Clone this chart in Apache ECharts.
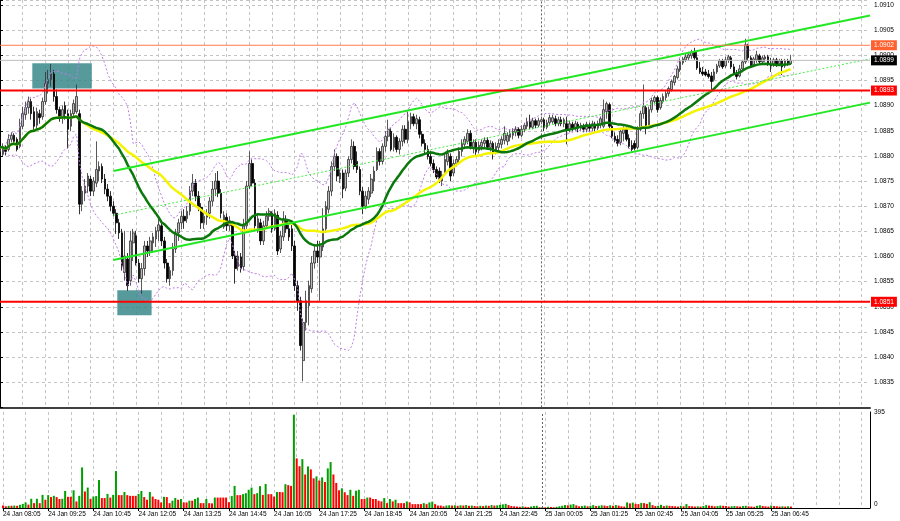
<!DOCTYPE html>
<html><head><meta charset="utf-8">
<script src="https://cdn.jsdelivr.net/npm/echarts/dist/echarts.min.js"></script>
<style>html,body{margin:0;padding:0;background:#fff;}#c{width:900px;height:521px;}</style>
</head><body><div id="c"></div>
<script>
const timeLabels = ["24 Jan 08:05","24 Jan 09:25","24 Jan 10:45","24 Jan 12:05","24 Jan 13:25","24 Jan 14:45","24 Jan 16:05","24 Jan 17:25","24 Jan 18:45","24 Jan 20:05","24 Jan 21:25","24 Jan 22:45","25 Jan 00:05","25 Jan 01:25","25 Jan 02:45","25 Jan 04:05","25 Jan 05:25","25 Jan 06:45"];
const slotCount = 308;
const opens = [
1.08809,1.08803,1.08817,1.08813,1.08833,1.08841,1.08833,1.08819,1.08859,1.08882,
1.08896,1.08908,1.08888,1.08861,1.08884,1.08878,1.08908,1.08944,1.08952,1.08963,
1.08918,1.08892,1.08876,1.08900,1.08884,1.08859,1.08884,1.08888,1.08884,1.08704,
1.08726,1.08740,1.08754,1.08730,1.08746,1.08770,1.08779,1.08754,1.08734,1.08720,
1.08700,1.08686,1.08667,1.08647,1.08568,1.08595,1.08552,1.08627,1.08641,1.08587,
1.08556,1.08576,1.08621,1.08611,1.08627,1.08635,1.08651,1.08661,1.08631,1.08587,
1.08556,1.08572,1.08615,1.08647,1.08667,1.08680,1.08675,1.08690,1.08730,1.08746,
1.08720,1.08698,1.08667,1.08678,1.08686,1.08710,1.08734,1.08750,1.08726,1.08659,
1.08678,1.08661,1.08667,1.08601,1.08580,1.08599,1.08580,1.08661,1.08740,1.08785,
1.08746,1.08655,1.08667,1.08631,1.08661,1.08680,1.08686,1.08655,1.08682,1.08615,
1.08639,1.08671,1.08655,1.08655,1.08621,1.08542,1.08512,1.08393,1.08469,1.08502,
1.08536,1.08587,1.08611,1.08599,1.08619,1.08655,1.08694,1.08730,1.08779,1.08799,
1.08754,1.08766,1.08736,1.08766,1.08793,1.08819,1.08789,1.08773,1.08730,1.08700,
1.08714,1.08726,1.08750,1.08773,1.08809,1.08789,1.08819,1.08839,1.08849,1.08817,
1.08837,1.08813,1.08829,1.08853,1.08833,1.08864,1.08878,1.08864,1.08872,1.08843,
1.08825,1.08813,1.08799,1.08785,1.08773,1.08770,1.08750,1.08766,1.08789,1.08799,
1.08766,1.08785,1.08793,1.08809,1.08823,1.08829,1.08845,1.08817,1.08827,1.08811,
1.08819,1.08825,1.08831,1.08817,1.08825,1.08809,1.08817,1.08823,1.08831,1.08829,
1.08837,1.08841,1.08847,1.08853,1.08841,1.08853,1.08859,1.08868,1.08857,1.08870,
1.08861,1.08868,1.08872,1.08857,1.08866,1.08868,1.08874,1.08864,1.08872,1.08864,
1.08864,1.08853,1.08863,1.08855,1.08863,1.08855,1.08859,1.08853,1.08861,1.08855,
1.08863,1.08855,1.08864,1.08859,1.08888,1.08902,1.08859,1.08839,1.08833,1.08827,
1.08845,1.08853,1.08835,1.08821,1.08825,1.08817,1.08853,1.08884,1.08896,1.08861,
1.08892,1.08908,1.08916,1.08896,1.08908,1.08916,1.08924,1.08932,1.08946,1.08956,
1.08971,1.08985,1.08991,1.08995,1.08999,1.09007,1.08995,1.08975,1.08967,1.08967,
1.08963,1.08959,1.08952,1.08967,1.08979,1.08989,1.08979,1.08991,1.08995,1.08977,
1.08965,1.08959,1.08973,1.08987,1.09019,1.08995,1.08981,1.08991,1.08999,1.08987,
1.08993,1.08997,1.08983,1.08981,1.08991,1.08983,1.08989,1.08979,1.08989,1.08983];
const closes = [
1.08817,1.08817,1.08809,1.08833,1.08841,1.08829,1.08813,1.08859,1.08884,1.08896,
1.08908,1.08884,1.08859,1.08888,1.08876,1.08908,1.08944,1.08952,1.08963,1.08918,
1.08892,1.08878,1.08892,1.08884,1.08853,1.08884,1.08904,1.08918,1.08704,1.08730,
1.08740,1.08760,1.08730,1.08750,1.08773,1.08779,1.08754,1.08734,1.08720,1.08700,
1.08686,1.08667,1.08647,1.08582,1.08601,1.08542,1.08631,1.08647,1.08587,1.08556,
1.08576,1.08621,1.08611,1.08631,1.08639,1.08651,1.08663,1.08631,1.08587,1.08556,
1.08572,1.08615,1.08647,1.08667,1.08680,1.08671,1.08690,1.08730,1.08746,1.08720,
1.08698,1.08667,1.08680,1.08686,1.08710,1.08734,1.08750,1.08726,1.08686,1.08682,
1.08661,1.08671,1.08601,1.08576,1.08601,1.08576,1.08661,1.08740,1.08785,1.08746,
1.08661,1.08675,1.08631,1.08661,1.08680,1.08690,1.08655,1.08686,1.08611,1.08641,
1.08675,1.08655,1.08639,1.08621,1.08542,1.08512,1.08423,1.08469,1.08512,1.08542,
1.08587,1.08611,1.08599,1.08621,1.08655,1.08700,1.08730,1.08779,1.08799,1.08760,
1.08766,1.08734,1.08766,1.08793,1.08819,1.08779,1.08773,1.08730,1.08700,1.08720,
1.08730,1.08754,1.08770,1.08809,1.08789,1.08819,1.08839,1.08853,1.08813,1.08837,
1.08813,1.08829,1.08853,1.08833,1.08868,1.08878,1.08864,1.08874,1.08843,1.08825,
1.08813,1.08799,1.08785,1.08773,1.08758,1.08754,1.08762,1.08793,1.08805,1.08760,
1.08785,1.08793,1.08809,1.08825,1.08833,1.08845,1.08819,1.08827,1.08809,1.08821,
1.08827,1.08831,1.08817,1.08825,1.08807,1.08819,1.08825,1.08833,1.08845,1.08841,
1.08845,1.08849,1.08853,1.08841,1.08853,1.08861,1.08868,1.08857,1.08870,1.08861,
1.08870,1.08872,1.08857,1.08866,1.08876,1.08876,1.08864,1.08872,1.08864,1.08872,
1.08853,1.08864,1.08855,1.08864,1.08855,1.08861,1.08853,1.08863,1.08855,1.08864,
1.08855,1.08864,1.08874,1.08892,1.08904,1.08859,1.08839,1.08831,1.08825,1.08849,
1.08853,1.08833,1.08819,1.08813,1.08815,1.08853,1.08884,1.08898,1.08859,1.08892,
1.08910,1.08916,1.08892,1.08910,1.08918,1.08924,1.08934,1.08948,1.08958,1.08973,
1.08987,1.08993,1.08997,1.09001,1.09007,1.08995,1.08975,1.08967,1.08963,1.08961,
1.08958,1.08948,1.08967,1.08979,1.08989,1.08977,1.08991,1.08997,1.08977,1.08965,
1.08958,1.08973,1.08987,1.09021,1.08995,1.08979,1.08993,1.09001,1.08987,1.08995,
1.08997,1.08983,1.08979,1.08991,1.08981,1.08989,1.08977,1.08989,1.08983,1.08990];
const lows = [
1.08799,1.08799,1.08801,1.08809,1.08827,1.08825,1.08809,1.08815,1.08853,1.08872,
1.08884,1.08872,1.08849,1.08855,1.08864,1.08872,1.08902,1.08924,1.08938,1.08908,
1.08884,1.08868,1.08864,1.08872,1.08815,1.08849,1.08878,1.08884,1.08684,1.08690,
1.08710,1.08726,1.08720,1.08720,1.08738,1.08750,1.08746,1.08724,1.08710,1.08690,
1.08680,1.08645,1.08635,1.08572,1.08552,1.08532,1.08542,1.08591,1.08582,1.08548,
1.08526,1.08562,1.08599,1.08601,1.08611,1.08619,1.08631,1.08621,1.08576,1.08548,
1.08542,1.08562,1.08607,1.08631,1.08655,1.08655,1.08667,1.08682,1.08720,1.08710,
1.08690,1.08655,1.08655,1.08663,1.08675,1.08700,1.08720,1.08718,1.08676,1.08655,
1.08651,1.08651,1.08595,1.08546,1.08572,1.08568,1.08572,1.08655,1.08734,1.08740,
1.08655,1.08647,1.08623,1.08623,1.08655,1.08671,1.08647,1.08651,1.08603,1.08607,
1.08631,1.08647,1.08631,1.08611,1.08532,1.08492,1.08413,1.08352,1.08453,1.08463,
1.08528,1.08576,1.08587,1.08512,1.08611,1.08647,1.08686,1.08720,1.08770,1.08750,
1.08746,1.08716,1.08730,1.08758,1.08785,1.08773,1.08766,1.08722,1.08684,1.08694,
1.08704,1.08718,1.08730,1.08770,1.08781,1.08783,1.08809,1.08829,1.08809,1.08809,
1.08807,1.08803,1.08819,1.08825,1.08825,1.08853,1.08859,1.08853,1.08835,1.08819,
1.08805,1.08793,1.08779,1.08766,1.08754,1.08746,1.08740,1.08760,1.08781,1.08750,
1.08760,1.08779,1.08785,1.08799,1.08815,1.08823,1.08813,1.08805,1.08799,1.08805,
1.08811,1.08815,1.08813,1.08809,1.08793,1.08803,1.08809,1.08815,1.08823,1.08821,
1.08829,1.08833,1.08839,1.08835,1.08837,1.08847,1.08853,1.08853,1.08853,1.08855,
1.08857,1.08863,1.08849,1.08853,1.08861,1.08864,1.08859,1.08859,1.08859,1.08857,
1.08823,1.08847,1.08849,1.08849,1.08847,1.08849,1.08847,1.08847,1.08849,1.08849,
1.08849,1.08851,1.08855,1.08855,1.08874,1.08855,1.08835,1.08827,1.08819,1.08821,
1.08829,1.08829,1.08815,1.08809,1.08811,1.08813,1.08849,1.08874,1.08843,1.08857,
1.08886,1.08902,1.08886,1.08892,1.08904,1.08910,1.08918,1.08928,1.08940,1.08952,
1.08967,1.08981,1.08987,1.08989,1.08993,1.08991,1.08971,1.08963,1.08959,1.08958,
1.08954,1.08932,1.08948,1.08963,1.08975,1.08973,1.08975,1.08985,1.08973,1.08961,
1.08952,1.08956,1.08969,1.08983,1.08989,1.08975,1.08977,1.08985,1.08983,1.08983,
1.08987,1.08979,1.08967,1.08977,1.08977,1.08979,1.08961,1.08975,1.08979,1.08981];
const highs = [
1.08823,1.08825,1.08821,1.08843,1.08847,1.08845,1.08837,1.08874,1.08898,1.08908,
1.08918,1.08914,1.08898,1.08896,1.08892,1.08916,1.08967,1.08971,1.08983,1.08971,
1.08932,1.08898,1.08900,1.08908,1.08892,1.08892,1.08912,1.08942,1.08892,1.08740,
1.08754,1.08766,1.08760,1.08758,1.08829,1.08789,1.08785,1.08764,1.08744,1.08730,
1.08710,1.08694,1.08675,1.08655,1.08651,1.08607,1.08651,1.08655,1.08651,1.08595,
1.08587,1.08631,1.08631,1.08639,1.08647,1.08659,1.08675,1.08671,1.08639,1.08595,
1.08580,1.08627,1.08655,1.08675,1.08690,1.08694,1.08700,1.08740,1.08764,1.08754,
1.08730,1.08706,1.08690,1.08694,1.08718,1.08750,1.08766,1.08770,1.08734,1.08690,
1.08686,1.08680,1.08671,1.08611,1.08611,1.08607,1.08675,1.08750,1.08809,1.08793,
1.08754,1.08682,1.08675,1.08671,1.08690,1.08696,1.08690,1.08694,1.08690,1.08651,
1.08690,1.08682,1.08667,1.08663,1.08631,1.08552,1.08520,1.08477,1.08532,1.08552,
1.08601,1.08625,1.08631,1.08631,1.08696,1.08710,1.08740,1.08789,1.08813,1.08805,
1.08773,1.08773,1.08773,1.08799,1.08833,1.08829,1.08809,1.08779,1.08738,1.08730,
1.08738,1.08764,1.08779,1.08817,1.08815,1.08825,1.08849,1.08872,1.08855,1.08845,
1.08841,1.08835,1.08861,1.08861,1.08888,1.08886,1.08884,1.08882,1.08878,1.08849,
1.08833,1.08821,1.08809,1.08793,1.08779,1.08777,1.08770,1.08805,1.08813,1.08805,
1.08793,1.08799,1.08817,1.08833,1.08839,1.08853,1.08851,1.08833,1.08833,1.08829,
1.08833,1.08837,1.08837,1.08831,1.08829,1.08827,1.08833,1.08839,1.08859,1.08847,
1.08853,1.08855,1.08859,1.08857,1.08861,1.08866,1.08876,1.08882,1.08876,1.08874,
1.08876,1.08878,1.08876,1.08872,1.08882,1.08882,1.08880,1.08878,1.08878,1.08876,
1.08878,1.08870,1.08868,1.08870,1.08868,1.08866,1.08864,1.08868,1.08866,1.08870,
1.08868,1.08870,1.08878,1.08912,1.08908,1.08906,1.08863,1.08847,1.08841,1.08855,
1.08859,1.08857,1.08843,1.08831,1.08831,1.08859,1.08890,1.08942,1.08900,1.08898,
1.08916,1.08920,1.08920,1.08916,1.08924,1.08930,1.08938,1.08952,1.08961,1.08979,
1.08993,1.08997,1.09003,1.09007,1.09011,1.09015,1.09007,1.08987,1.08977,1.08973,
1.08971,1.08967,1.08973,1.08983,1.08993,1.08993,1.08997,1.09001,1.08999,1.08983,
1.08971,1.08981,1.08991,1.09033,1.09023,1.08999,1.08997,1.09009,1.09003,1.08999,
1.09001,1.09001,1.08995,1.08995,1.08995,1.08993,1.08993,1.08993,1.08993,1.09001];
const volumes = [
10,7,9,9,10,9,13,17,23,14, 38,20,38,20,54,34,53,45,50,45,
37,38,70,46,46,73,27,50,167,68, 84,38,47,49,115,41,41,58,43,54,
152,53,53,66,53,50,50,50,58,70, 45,34,66,47,37,34,23,46,45,20,
30,41,34,37,23,23,30,30,37,43, 20,20,37,20,19,43,43,43,43,43,
24,49,91,53,53,57,61,75,84,57, 61,90,54,99,57,57,47,66,66,65,
98,94,91,384,204,172,201,138,171,159, 122,130,113,126,107,163,189,138,103,73,
81,65,53,75,50,71,75,37,37,43, 43,37,37,30,27,41,20,37,27,34,
20,20,20,27,23,16,16,16,16,20, 16,23,26,16,10,10,7,10,11,10,
11,9,11,10,12,9,10,8,7,9, 8,10,9,12,10,11,13,15,17,12,
8,7,6,5,7,5,4,6,8,9, 3,4,3,5,4,3,5,7,9,12,
11,14,16,11,7,8,10,7,9,12, 8,9,11,10,8,11,9,12,10,7,
6,23,19,22,17,16,21,20,17,24, 12,8,9,13,8,10,9,8,7,6,
9,7,16,8,7,6,7,6,8,12, 10,9,7,8,10,9,8,6,7,8,
7,6,8,9,7,6,5,9,11,8, 7,6,10,8,7,6,7,6,7,6];
const levelValues = [1.0893, 1.0851, 1.0902, 1.0899];
const channelUpper = [[40, 1.08770], [307, 1.09079]];
const channelLower = [[40, 1.08593], [307, 1.08906]];
const channelMiddle = [[40, 1.08682], [307, 1.08993]];
const zones = [[11.4, 32.4, 1.08984, 1.08934], [41.4, 53.5, 1.08533, 1.08483]];
const daySeparatorBar = 191;

function sma(arr, n) {
  return arr.map((_, i) => { const s = Math.max(0, i - n + 1); let sum = 0; for (let k = s; k <= i; k++) sum += arr[k]; return sum / (i - s + 1); });
}
function boll(arr, n, m, sign) {
  return arr.map((_, i) => { const s = Math.max(0, i - n + 1); const w = arr.slice(s, i + 1); const mu = w.reduce((a, b) => a + b, 0) / w.length; const sd = Math.sqrt(w.reduce((a, b) => a + (b - mu) * (b - mu), 0) / w.length); return mu + sign * m * sd; });
}
const cats = Array.from({length: slotCount}, (_, i) => i);
const candles = opens.map((o, i) => [o, closes[i], lows[i], highs[i]]);
const volData = volumes.map((v, i) => ({value: v, itemStyle: {color: (i > 0 && v > volumes[i - 1]) ? '#00a000' : '#ff0000'}}));
const ma30 = sma(closes, 30), ma50 = sma(closes, 50);
const bbUp = boll(closes, 20, 2, 1), bbDn = boll(closes, 20, 2, -1);
const FONT = 'Liberation Sans';
const gridLine = {show: true, lineStyle: {color: '#c4c4c4', type: [3, 3], width: 1}};
const levelStyles = [
  {line: '#ff0000', w: 2, box: '#ff0000', txt: '#fff'},
  {line: '#ff0000', w: 2, box: '#ff0000', txt: '#fff'},
  {line: '#ff7a50', w: 1, box: '#ff6030', txt: '#fff'},
  {line: '#bdbdbd', w: 1, box: '#000000', txt: '#fff'}
];
const levelSeries = levelValues.map((v, i) => ({
  type: 'line', xAxisIndex: 2, yAxisIndex: 0, z: 7, silent: true, showSymbol: false,
  data: [[0, v], [slotCount - 1, v]],
  lineStyle: {color: levelStyles[i].line, width: levelStyles[i].w},
  endLabel: {show: true, distance: 1, formatter: v.toFixed(4), fontSize: 6.5, fontFamily: FONT,
    color: levelStyles[i].txt, backgroundColor: levelStyles[i].box, padding: [2, 3, 1, 3]}
}));
const chart = echarts.init(document.getElementById('c'), null, {renderer: 'canvas'});
chart.setOption({
  animation: false,
  backgroundColor: '#ffffff',
  grid: [
    {left: 0, right: 30, top: -2, height: 409.4},
    {left: 0, right: 30, top: 412, height: 96}
  ],
  xAxis: [
    {type: 'category', gridIndex: 0, data: cats, boundaryGap: false,
     axisLine: {show: true, lineStyle: {color: '#404040', width: 2}}, axisTick: {show: false}, axisLabel: {show: false},
     splitLine: Object.assign({interval: (i) => i % 8 === 0}, gridLine)},
    {type: 'category', gridIndex: 1, data: cats, boundaryGap: false,
     axisLine: {show: true, lineStyle: {color: '#000', width: 1}},
     axisTick: {show: true, length: 3, interval: (i) => i % 16 === 0 && i <= 279, lineStyle: {color: '#000'}},
     axisLabel: {show: true, interval: (i) => i % 16 === 0 && i <= 279, formatter: (v, i) => timeLabels[Math.round(i / 16)] || '',
       align: 'left', fontSize: 6.5, fontFamily: FONT, color: '#000', margin: 3},
     splitLine: Object.assign({interval: (i) => i % 8 === 0}, gridLine)},
    {type: 'value', gridIndex: 0, min: 0, max: 307, show: false}
  ],
  yAxis: [
    {type: 'value', gridIndex: 0, position: 'right', min: 1.0830, max: 1.0911, interval: 0.0005, scale: true,
     axisLine: {show: true, lineStyle: {color: '#000', width: 1}}, axisTick: {show: true, length: 3, lineStyle: {color: '#000'}},
     axisLabel: {fontSize: 6.5, fontFamily: FONT, color: '#000', margin: 4,
       formatter: (v) => (v > 1.08345 && v < 1.09105) ? v.toFixed(4) : ''},
     splitLine: gridLine},
    {type: 'value', gridIndex: 1, position: 'right', min: 0, max: 395, interval: 395,
     axisLine: {show: true, lineStyle: {color: '#000', width: 1}}, axisTick: {show: false},
     axisLabel: {fontSize: 6.5, fontFamily: FONT, color: '#000', margin: 4,
       formatter: (v) => v === 0 ? '{b|0}' : '{t|' + v + '}',
       rich: {b: {fontSize: 6.5, fontFamily: FONT, padding: [0, 0, 8, 0]}, t: {fontSize: 6.5, fontFamily: FONT, padding: [0, 0, 0, 0]}}},
     splitLine: {show: false}}
  ],
  series: [
    {type: 'custom', xAxisIndex: 2, yAxisIndex: 0, z: 1, data: zones, silent: true,
     renderItem: (params, api) => {
       const p1 = api.coord([api.value(0), api.value(2)]);
       const p2 = api.coord([api.value(1), api.value(3)]);
       return {type: 'rect', shape: {x: p1[0], y: p1[1], width: p2[0] - p1[0], height: p2[1] - p1[1]}, style: {fill: 'rgba(56,136,138,0.85)'}};
     }},
    {type: 'candlestick', xAxisIndex: 0, yAxisIndex: 0, z: 3, data: candles, barWidth: '75%',
     itemStyle: {color: '#b8b8b8', color0: '#000000', borderColor: '#303030', borderColor0: '#000000', borderWidth: 0.8},
     markLine: {symbol: 'none', silent: true, animation: false, label: {show: false},
       data: [{xAxis: daySeparatorBar, lineStyle: {color: '#606060', width: 1, type: [2, 2]}}]}},
    {type: 'line', xAxisIndex: 0, yAxisIndex: 0, z: 4, data: bbUp, showSymbol: false, lineStyle: {color: '#c07ce8', width: 1, type: [2, 2]}},
    {type: 'line', xAxisIndex: 0, yAxisIndex: 0, z: 4, data: bbDn, showSymbol: false, lineStyle: {color: '#c07ce8', width: 1, type: [2, 2]}},
    {type: 'line', xAxisIndex: 0, yAxisIndex: 0, z: 5, data: ma50, showSymbol: false, lineStyle: {color: '#f4f400', width: 2.5}},
    {type: 'line', xAxisIndex: 0, yAxisIndex: 0, z: 6, data: ma30, showSymbol: false, lineStyle: {color: '#0a780a', width: 2.5}},
    {type: 'line', xAxisIndex: 2, yAxisIndex: 0, z: 6, data: channelUpper, showSymbol: false, lineStyle: {color: '#22e822', width: 2}},
    {type: 'line', xAxisIndex: 2, yAxisIndex: 0, z: 6, data: channelLower, showSymbol: false, lineStyle: {color: '#22e822', width: 2}},
    {type: 'line', xAxisIndex: 2, yAxisIndex: 0, z: 6, data: channelMiddle, showSymbol: false, lineStyle: {color: '#44ee44', width: 1, type: [2, 2]}},
    {type: 'bar', xAxisIndex: 1, yAxisIndex: 1, data: volData, barWidth: 2,
     markLine: {symbol: 'none', silent: true, animation: false, label: {show: false},
       data: [{xAxis: daySeparatorBar, lineStyle: {color: '#606060', width: 1, type: [2, 2]}}]}}
  ].concat(levelSeries)
});
</script>
</body></html>
